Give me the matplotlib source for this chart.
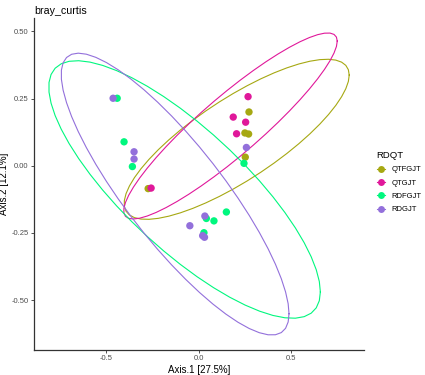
import numpy as np
import matplotlib
matplotlib.use("Agg")
from matplotlib import pyplot as plt
from matplotlib.lines import Line2D

plt.rcParams['font.family'] = ['Liberation Sans', 'DejaVu Sans']

groups = ["QTFGJT", "QTGJT", "RDFGJT", "RDGJT"]
colors = ["#A6A812", "#E0189A", "#00F77E", "#9370DB"]

qtfgjt_x = [0.272, 0.250, 0.270, 0.252, -0.272]
qtfgjt_y = [0.200, 0.122, 0.118, 0.032, -0.085]
qtgjt_x = [0.267, 0.187, 0.254, 0.205, -0.256]
qtgjt_y = [0.257, 0.181, 0.162, 0.119, -0.083]
rdfgjt_x = [0.245, 0.150, 0.042, 0.083, 0.029, -0.357, -0.439, -0.402]
rdfgjt_y = [0.009, -0.172, -0.196, -0.205, -0.249, -0.003, 0.251, 0.089]
rdgjt_x = [0.258, 0.034, -0.047, 0.022, 0.032, -0.348, -0.348, -0.461]
rdgjt_y = [0.068, -0.187, -0.223, -0.260, -0.266, 0.052, 0.025, 0.251]

xs = [qtfgjt_x, qtgjt_x, rdfgjt_x, rdgjt_x]
ys = [qtfgjt_y, qtgjt_y, rdfgjt_y, rdgjt_y]


def cov_trob(x, nu=5, maxit=25, tol=0.01):
    # port of MASS::cov.trob (as used by ggplot2 stat_ellipse type="t")
    n, p = x.shape
    wt = np.ones(n)
    loc = x.mean(axis=0)
    w = np.sqrt(wt)
    for _ in range(maxit):
        w0 = w
        X = x - loc
        _, d, vt = np.linalg.svd(np.sqrt(w / w.sum())[:, None] * X, full_matrices=False)
        wX = X @ vt.T @ np.diag(1 / d)
        Q = (wX ** 2).sum(axis=1)
        w = wt * (nu + p) / (nu + Q)
        loc = (w[:, None] * x).sum(axis=0) / w.sum()
        if np.all(np.abs(w - w0) < tol):
            break
    X = x - loc
    cov = (np.sqrt(w)[:, None] * X).T @ (np.sqrt(w)[:, None] * X) / wt.sum()
    return loc, cov


def ellipse(x, y, level=0.95, seg=51):
    data = np.column_stack([x, y])
    n = len(x)
    center, shape = cov_trob(data)
    chol = np.linalg.cholesky(shape).T
    dfd = n - 1
    fq = dfd / 2 * ((1 - level) ** (-2 / dfd) - 1)
    radius = np.sqrt(2 * fq)
    ang = np.linspace(0, 2 * np.pi, seg + 1)
    circ = np.column_stack([np.cos(ang), np.sin(ang)])
    return center + radius * (circ @ chol)


fig = plt.figure(figsize=(4.25, 3.75), dpi=100)
ax = fig.add_axes([0.08, 0.067, 0.777, 0.885])

for g, c, x, y in zip(groups, colors, xs, ys):
    e = ellipse(np.array(x), np.array(y))
    ax.plot(e[:, 0], e[:, 1], color=c, lw=0.8)
for g, c, x, y in zip(groups, colors, xs, ys):
    ax.scatter(x, y, s=28, color=c, edgecolors='none', zorder=3)

ax.margins(0.05)
ax.set_xticks([-0.5, 0.0, 0.5])
ax.set_xticklabels(["-0.5", "0.0", "0.5"])
ax.set_yticks([-0.5, -0.25, 0.0, 0.25, 0.5])
ax.set_yticklabels(["-0.50", "-0.25", "0.00", "0.25", "0.50"])
ax.tick_params(labelsize=5.5, labelcolor="#4D4D4D", length=2.5, width=0.6, color="#333333", pad=1.5)
for s in ["top", "right"]:
    ax.spines[s].set_visible(False)
for s in ["left", "bottom"]:
    ax.spines[s].set_linewidth(0.9)
    ax.spines[s].set_color("#333333")

ax.set_xlabel("Axis.1 [27.5%]", fontsize=7, labelpad=1.5)
ax.set_ylabel("Axis.2 [12.1%]", fontsize=7, labelpad=1.5)
fig.text(0.08, 0.985, "bray_curtis", fontsize=7.7, va='top', ha='left')

handles = [Line2D([0], [0], color=c, lw=0.8, marker='o', markersize=5, markeredgewidth=0)
           for c in colors]
leg = fig.legend(handles, groups, loc='upper left', bbox_to_anchor=(0.886, 0.597),
                 frameon=False, title="RDQT", fontsize=5.5, title_fontsize=6.8,
                 handlelength=1.1, handletextpad=0.9, labelspacing=0.78,
                 borderpad=0, borderaxespad=0)
leg._legend_box.align = "left"

fig.savefig("out.png", dpi=100)
